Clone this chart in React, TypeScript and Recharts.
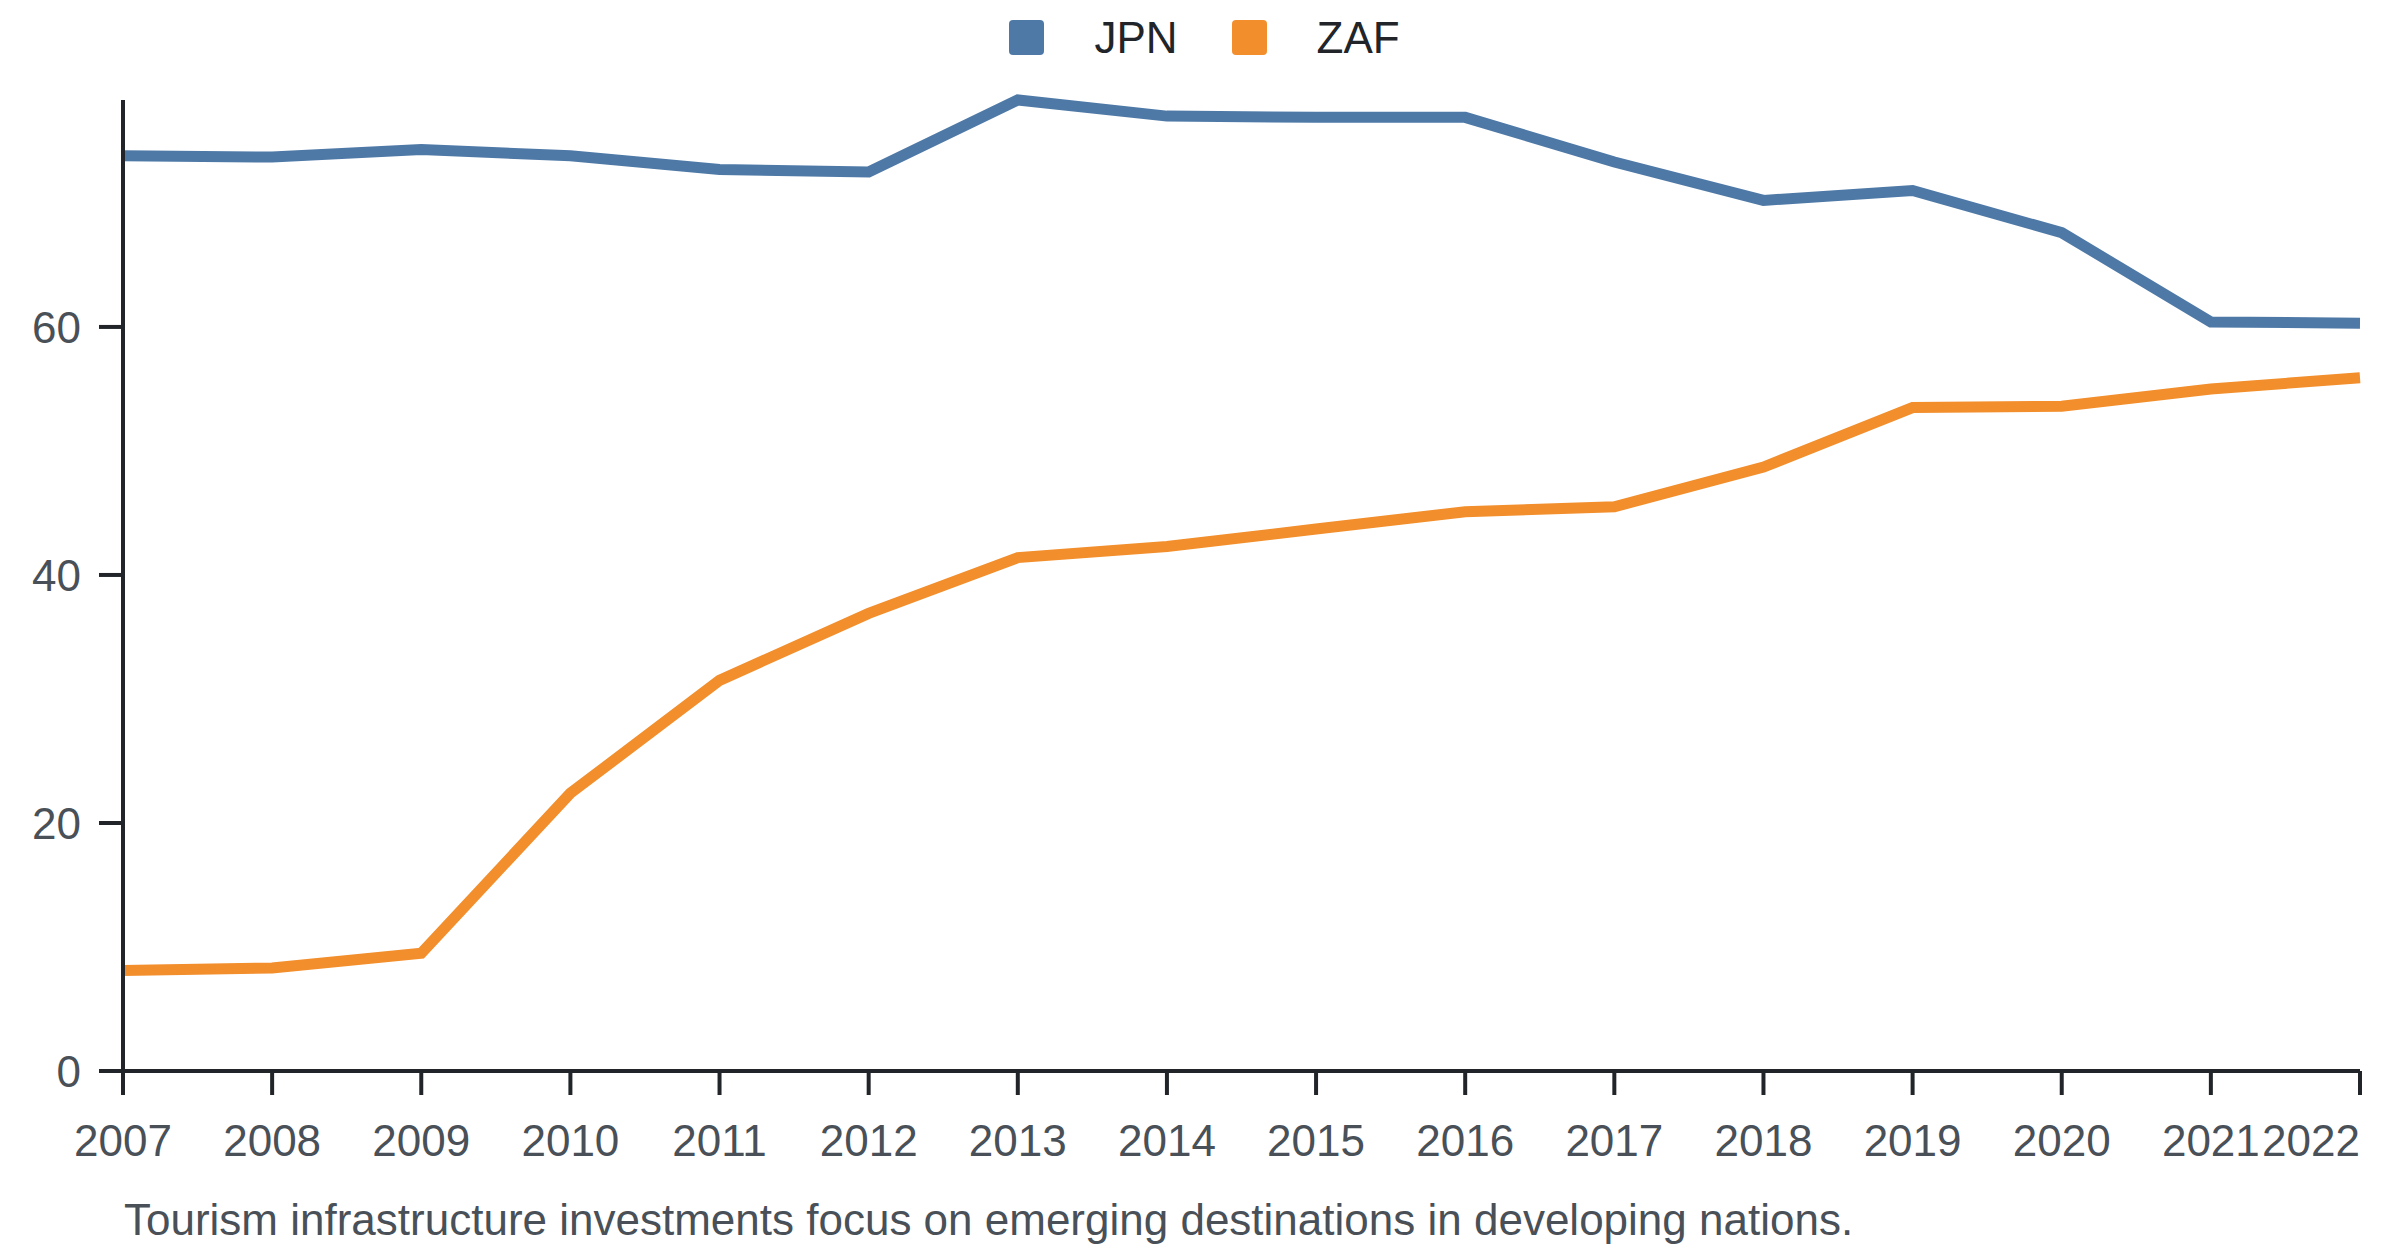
import { LineChart, Line, XAxis, YAxis, Legend } from 'recharts';

const years = ['2007', '2008', '2009', '2010', '2011', '2012', '2013', '2014', '2015', '2016', '2017', '2018', '2019', '2020', '2021', '2022'];
const jpn = [73.8, 73.7, 74.3, 73.8, 72.7, 72.5, 78.3, 77.0, 76.9, 76.9, 73.3, 70.2, 71.0, 67.6, 60.4, 60.3];
const zaf = [8.1, 8.3, 9.5, 22.4, 31.5, 36.9, 41.4, 42.3, 43.7, 45.1, 45.5, 48.7, 53.5, 53.6, 55.0, 55.9];
const yTicks = [0, 20, 40, 60];
const caption = 'Tourism infrastructure investments focus on emerging destinations in developing nations.';

const data = years.map((year, i) => ({ year, JPN: jpn[i], ZAF: zaf[i] }));

const FONT = '"Liberation Sans", Arial, sans-serif';
const AXIS = '#212529';
const LABEL = '#495057';

function XTick(props: any) {
	const { x, y, payload, index } = props;
	const last = index === years.length - 1;
	return (
		<text x={x} y={y} dy="0.71em" textAnchor={last ? 'end' : 'middle'} fill={LABEL} fontSize={44} fontFamily={FONT}>
			{payload.value}
		</text>
	);
}

function LegendContent(props: any) {
	const items = props.payload || [];
	return (
		<div style={styles.legend}>
			{items.map((item: any, i: number) => (
				<div key={item.value} style={{ ...styles.legendItem, marginRight: i < items.length - 1 ? 54 : 0 }}>
					<span style={{ ...styles.swatch, background: item.color }} />
					<span style={styles.legendText}>{item.value}</span>
				</div>
			))}
		</div>
	);
}

export default function App() {
	return (
		<div style={styles.page}>
			<LineChart width={2400} height={1181} data={data} margin={{ top: 0, right: 40, left: 0, bottom: 0 }}>
				<Legend verticalAlign="top" content={<LegendContent />} wrapperStyle={{ top: 0, left: 0, width: 2400 }} />
				<XAxis
					dataKey="year"
					interval={0}
					height={110}
					tickSize={24}
					tickMargin={30}
					tick={<XTick />}
					axisLine={{ stroke: AXIS, strokeWidth: 4 }}
					tickLine={{ stroke: AXIS, strokeWidth: 4 }}
				/>
				<YAxis
					width={123}
					domain={[0, 'dataMax']}
					ticks={yTicks}
					tickSize={24}
					tickMargin={18}
					tick={{ fill: LABEL, fontSize: 44, fontFamily: FONT }}
					axisLine={{ stroke: AXIS, strokeWidth: 4 }}
					tickLine={{ stroke: AXIS, strokeWidth: 4 }}
				/>
				<Line dataKey="JPN" stroke="#4e79a7" strokeWidth={11} dot={false} activeDot={false} isAnimationActive={false} />
				<Line dataKey="ZAF" stroke="#f28e2b" strokeWidth={11} dot={false} activeDot={false} isAnimationActive={false} />
			</LineChart>
			<div style={styles.caption}>{caption}</div>
		</div>
	);
}

const styles: Record<string, React.CSSProperties> = {
	page: {
		position: 'absolute',
		left: 0,
		top: 0,
		width: 2400,
		height: 1256,
		background: '#fff',
		fontFamily: FONT,
	},
	legend: {
		width: 2400,
		height: 100,
		display: 'flex',
		justifyContent: 'center',
		alignItems: 'flex-start',
		paddingTop: 20,
		paddingLeft: 9,
		boxSizing: 'border-box',
	},
	legendItem: {
		display: 'flex',
		alignItems: 'center',
		height: 35,
	},
	swatch: {
		display: 'inline-block',
		width: 35,
		height: 35,
		borderRadius: 4,
		marginRight: 50,
	},
	legendText: {
		fontSize: 44,
		lineHeight: 1,
		color: AXIS,
	},
	caption: {
		position: 'absolute',
		left: 124,
		top: 1198,
		fontSize: 44,
		lineHeight: '44px',
		color: LABEL,
		whiteSpace: 'nowrap',
	},
};
